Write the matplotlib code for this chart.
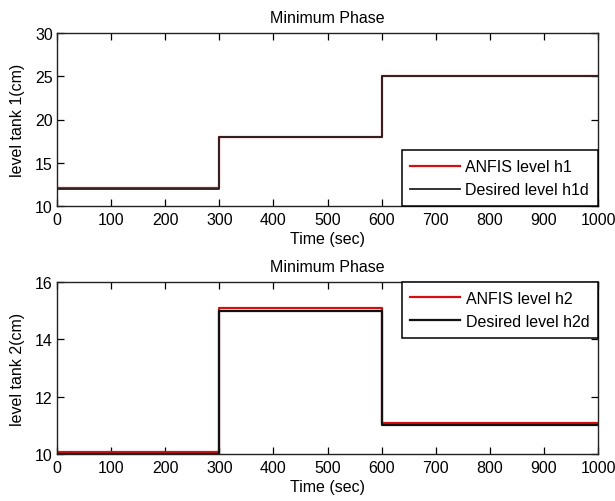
import numpy as np
import matplotlib
matplotlib.use("Agg")
import matplotlib.pyplot as plt

# setpoint changes at these times (sec), last entry closes the run
t_steps = [0, 300, 600, 1000]

# tank 1: ANFIS response vs desired level
h1_anfis = [12.1, 18.0, 25.08, 25.08]
h1_desired = [12.0, 18.0, 25.0, 25.0]

# tank 2: ANFIS response vs desired level
h2_anfis = [10.06, 15.1, 11.08, 11.08]
h2_desired = [10.0, 15.0, 11.0, 11.0]

xticks = np.arange(0, 1001, 100)

FS = 11.5
plt.rcParams["font.family"] = ["Liberation Sans", "DejaVu Sans"]
plt.rcParams["font.size"] = FS

fig = plt.figure(figsize=(6.15, 5.02), dpi=100)
W, H = 615.0, 502.0
ax1 = fig.add_axes([57 / W, 1 - 207 / H, 541 / W, 173 / H])
ax2 = fig.add_axes([57 / W, 1 - 455 / H, 541 / W, 172 / H])


def style(ax, ylim, yticks, ylabel):
    ax.set_xlim(0, 1000)
    ax.set_ylim(*ylim)
    ax.set_xticks(xticks)
    ax.set_yticks(yticks)
    ax.tick_params(direction="in", top=True, right=True, length=5, width=0.9,
                   labelsize=FS)
    ax.tick_params(axis="x", pad=4)
    ax.tick_params(axis="y", pad=3)
    for s in ax.spines.values():
        s.set_linewidth(1.0)
        s.set_color("#222222")
    ax.set_title("Minimum Phase", fontsize=FS, pad=8)
    ax.set_xlabel("Time (sec)", fontsize=FS, labelpad=3)
    ax.set_ylabel(ylabel, fontsize=FS, labelpad=7)


def add_legend(ax, loc):
    leg = ax.legend(loc=loc, borderaxespad=0, fancybox=False, framealpha=1,
                    edgecolor="black", fontsize=FS, handlelength=3.1,
                    handletextpad=0.35, labelspacing=0.5, borderpad=0.55)
    leg.get_frame().set_linewidth(1.1)
    return leg


ax1.step(t_steps, h1_anfis, where="post", color="#d40f0f", lw=1.6, label="ANFIS level h1")
ax1.step(t_steps, h1_desired, where="post", color="#222222", lw=1.3, label="Desired level h1d")
style(ax1, (10, 30), [10, 15, 20, 25, 30], "level tank 1(cm)")
add_legend(ax1, "lower right")

ax2.step(t_steps, h2_anfis, where="post", color="#d40f0f", lw=1.6, label="ANFIS level h2")
ax2.step(t_steps, h2_desired, where="post", color="#111111", lw=1.6, label="Desired level h2d")
style(ax2, (10, 16), [10, 12, 14, 16], "level tank 2(cm)")
add_legend(ax2, "upper right")

fig.savefig("out.png", dpi=100)
